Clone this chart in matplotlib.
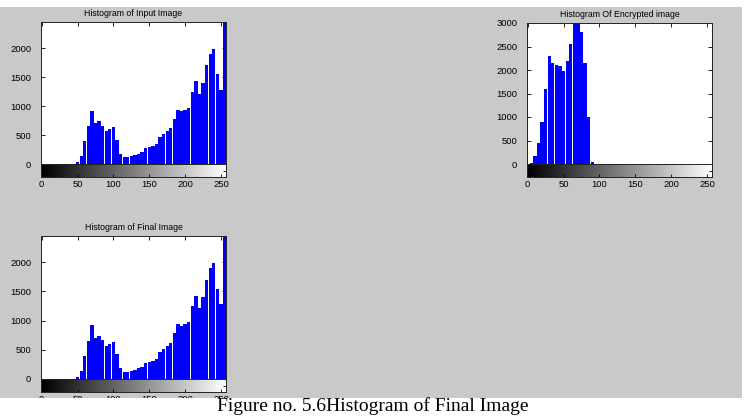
import numpy as np
import matplotlib
matplotlib.use('Agg')
import matplotlib.pyplot as plt
from matplotlib.patches import Rectangle

# Grey levels (bin centres, spacing 5) and counts
levels = list(range(0, 256, 5))
input_counts = [0, 0, 0, 0, 0, 0, 0, 0, 0, 5,
                40, 140, 400, 650, 920, 700, 740, 660, 570, 600,
                640, 420, 180, 120, 115, 130, 160, 180, 210, 270,
                290, 310, 340, 470, 520, 570, 620, 780, 940, 910,
                940, 970, 1250, 1430, 1210, 1400, 1700, 1900, 1980, 1550,
                1280, 2450]
encrypted_counts = [0, 20, 170, 450, 900, 1600, 2300, 2150, 2100, 2080,
                    1980, 2200, 2550, 3000, 3150, 2800, 2150, 1000, 50, 0,
                    0, 0, 0, 0, 0, 0, 0, 0, 0, 0,
                    0, 0, 0, 0, 0, 0, 0, 0, 0, 0,
                    0, 0, 0, 0, 0, 0, 0, 0, 0, 0,
                    0, 0]
# final image histogram is the same as the input one
final_counts = list(input_counts)

titles = ['Histogram of Input Image', 'Histogram Of Encrypted image', 'Histogram of Final Image']
caption = 'Figure no. 5.6Histogram of Final Image'

plt.rcParams['font.family'] = ['Liberation Sans', 'DejaVu Sans']

W, H = 750, 418
fig = plt.figure(figsize=(7.5, 4.18), dpi=100, facecolor='white')
# grey window background
fig.patches.append(Rectangle((0, 1 - 398 / H), 742 / W, (398 - 7) / H,
                             transform=fig.transFigure, facecolor='#c9c9c9',
                             edgecolor='none', zorder=-5))


def px(left, top, zero, cbot):
    # returns hist axes rect and colorbar rect in figure fractions
    hist = [left / W, 1 - zero / H, 185 / W, (zero - top) / H]
    cbar = [left / W, 1 - cbot / H, 185 / W, (cbot - zero) / H]
    return hist, cbar


panels = [
    (px(41, 22, 164, 177), input_counts, titles[0], 2450, [0, 500, 1000, 1500, 2000]),
    (px(527, 23, 164, 177), encrypted_counts, titles[1], 3000, [0, 500, 1000, 1500, 2000, 2500, 3000]),
    (px(41, 236, 379, 392), final_counts, titles[2], 2450, [0, 500, 1000, 1500, 2000]),
]

gradient = np.linspace(0, 1, 256).reshape(1, -1)
xlim = (-1, 257)

for (hrect, crect), counts, title, ytop, yt in panels:
    ax = fig.add_axes(hrect)
    ax.set_facecolor('white')
    ax.bar(levels, counts, width=4.6, color='#0000ff', linewidth=0, zorder=2)
    ax.set_xlim(*xlim)
    ax.set_ylim(0, ytop)
    ax.set_yticks(yt)
    ax.set_xticks([0, 50, 100, 150, 200, 250])
    ax.tick_params(axis='y', direction='in', length=3, width=0.6, right=True,
                   labelsize=6.8, pad=7)
    ax.tick_params(axis='x', direction='in', length=3, width=0.6, top=True,
                   bottom=False, labelbottom=False)
    for s in ax.spines.values():
        s.set_linewidth(0.7)
        s.set_color('#222222')
    ax.set_title(title, fontsize=6.3, pad=4)

    cax = fig.add_axes(crect)
    cax.imshow(gradient, cmap='gray', aspect='auto', extent=(0, 256, 0, 1),
               interpolation='bilinear')
    cax.set_xlim(*xlim)
    cax.set_ylim(0, 1)
    cax.set_xticks([0, 50, 100, 150, 200, 250])
    cax.set_yticks([0.5])
    cax.tick_params(axis='x', direction='in', length=2, width=0.6,
                    labelsize=6.8, pad=2)
    cax.tick_params(axis='y', direction='in', length=2, width=0.6, left=False,
                    right=True, labelleft=False)
    for s in cax.spines.values():
        s.set_linewidth(0.7)
        s.set_color('#222222')

# white strip with caption (covers cut-off tick labels of the lower panel)
fig.patches.append(Rectangle((0, 0), 1, 1 - 398 / H, transform=fig.transFigure,
                             facecolor='white', edgecolor='none', zorder=10))
fig.text(0.497, 0.017, caption, ha='center', va='baseline', fontsize=14,
         family=['Liberation Serif', 'DejaVu Serif'], zorder=11)

fig.savefig('out.png', dpi=100, facecolor=fig.get_facecolor())
